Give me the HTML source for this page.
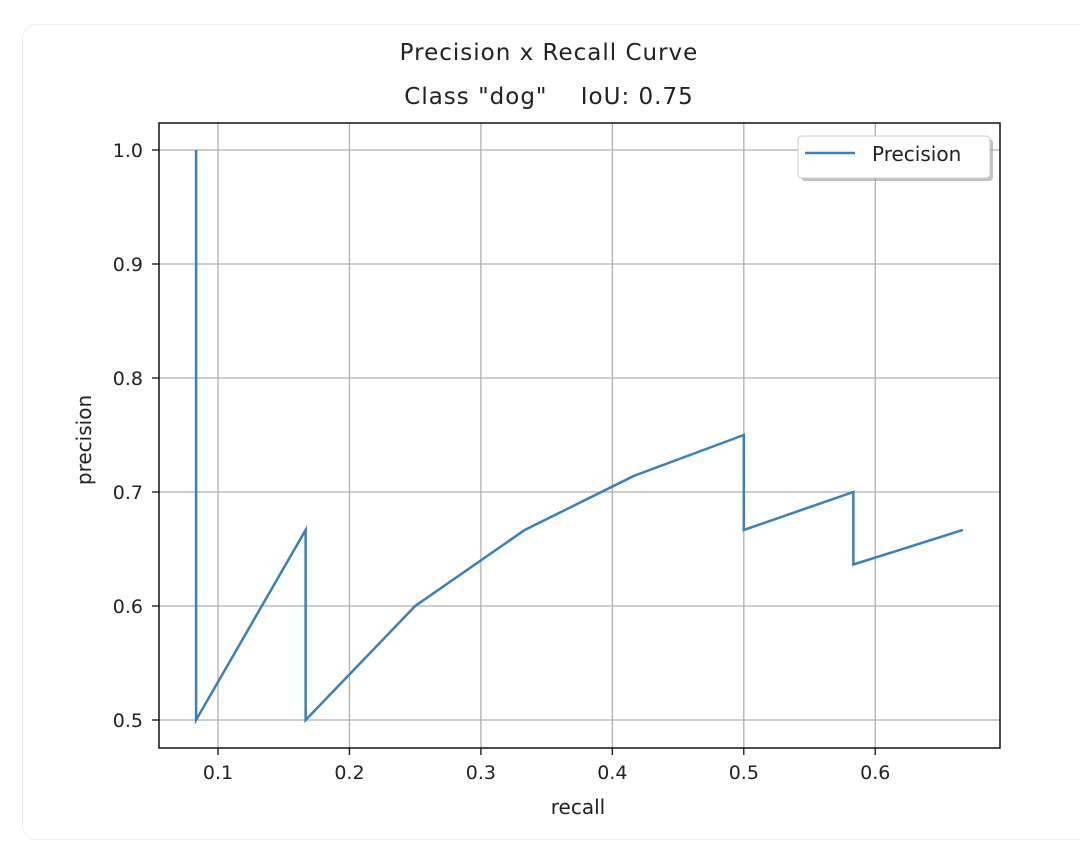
<!DOCTYPE html>
<html><head><meta charset="utf-8"><style>
body{margin:0;background:#fff;width:1080px;height:846px;overflow:hidden;font-family:"DejaVu Sans","Liberation Sans",sans-serif}
#card{position:absolute;left:22px;top:24px;width:1080px;height:814px;border:1px solid #eee;border-radius:14px;background:#fff}
</style></head><body>
<div id="card"></div>
<svg id="chart" width="1080" height="846" style="position:absolute;left:0;top:0">
<text x="549" y="60" text-anchor="middle" font-size="23" letter-spacing="1" fill="#222">Precision x Recall Curve</text>
<text x="549" y="104" text-anchor="middle" font-size="23" letter-spacing="1" fill="#222" xml:space="preserve">Class "dog"    IoU: 0.75</text>
<g id="grid"></g><g id="ticks"></g>
<path id="line" fill="none" stroke="#3a80bc" stroke-width="2.5"></path>
<rect x="159" y="123" width="841" height="625" fill="none" stroke="#111" stroke-width="1.5"/>
<text x="578" y="814" text-anchor="middle" font-size="20" fill="#222">recall</text>
<text transform="translate(91,440) rotate(-90)" text-anchor="middle" font-size="20" fill="#222">precision</text>
<g>
<rect x="801" y="139" width="192" height="42" rx="4" fill="#999" opacity="0.6"/>
<rect x="798" y="136" width="192" height="42" rx="4" fill="#fff" stroke="#ccc"/>
<line x1="805" y1="153" x2="855" y2="153" stroke="#3a80bc" stroke-width="2.5"/>
<text x="872" y="161" font-size="20" fill="#222">Precision</text>
</g>
</svg>
<script>
const recall=[1/12,1/12,2/12,2/12,3/12,4/12,5/12,6/12,6/12,7/12,7/12,8/12];
const precision=[1.0,0.5,0.6667,0.5,0.6,0.6667,0.7143,0.75,0.6667,0.7,0.6364,0.6667];
const xTicks=[0.1,0.2,0.3,0.4,0.5,0.6];
const yTicks=[0.5,0.6,0.7,0.8,0.9,1.0];
const X=v=>218+(v-0.1)*1314.5;
const Y=v=>720-(v-0.5)*1140;
const NS='http://www.w3.org/2000/svg';
const g=document.getElementById('grid'),t=document.getElementById('ticks');
function mk(tag,a,p){const e=document.createElementNS(NS,tag);for(const k in a)e.setAttribute(k,a[k]);p.appendChild(e);return e;}
xTicks.forEach(v=>{
const l=mk('line',{x1:X(v),x2:X(v),y1:123,y2:748,stroke:'#b0b0b0','stroke-width':1.3},g);


mk('line',{x1:X(v),x2:X(v),y1:748,y2:755,stroke:'#111','stroke-width':1.3},t);
const tx=mk('text',{x:X(v),y:779,'text-anchor':'middle','font-size':19,fill:'#222'},t);
tx.textContent=v.toFixed(1);


});
yTicks.forEach(v=>{
const l=mk('line',{x1:159,x2:1000,y1:Y(v),y2:Y(v),stroke:'#b0b0b0','stroke-width':1.3},g);


mk('line',{x1:152,x2:159,y1:Y(v),y2:Y(v),stroke:'#111','stroke-width':1.3},t);
const tx=mk('text',{x:143,y:Y(v)+7,'text-anchor':'end','font-size':19,fill:'#222'},t);
tx.textContent=v.toFixed(1);


});
document.getElementById('line').setAttribute('d',recall.map((r,i)=>(i?'L':'M')+X(r)+' '+Y(precision[i])).join(' '));
</script>
</body></html>
